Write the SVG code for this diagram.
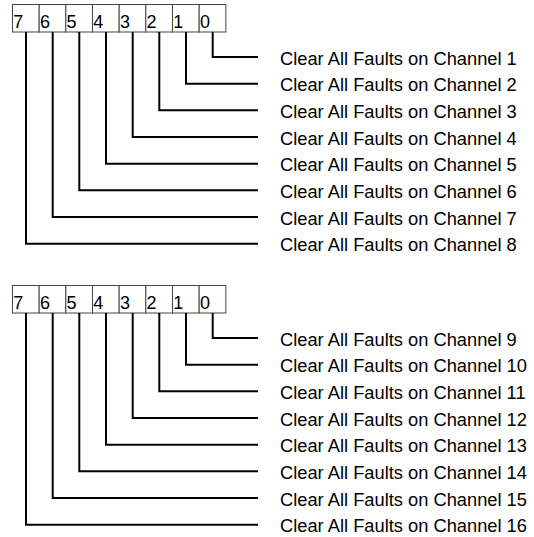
<svg xmlns="http://www.w3.org/2000/svg" width="534" height="537" viewBox="0 0 534 537">
<style>
.cell{fill:#fff;stroke:#444;stroke-width:1}
.bit{font-family:"Liberation Sans",Arial,sans-serif;font-size:18px;fill:#000}
.lbl{font-family:"Liberation Sans",Arial,sans-serif;font-size:18.3px;fill:#000}
.lead{fill:none;stroke:#000;stroke-width:2}
</style>
<rect width="534" height="537" fill="#fff"/>
<defs>
<g id="reg">
<rect class="cell" x="12.5" y="4.5" width="26.67" height="27.5"/>
<rect class="cell" x="39.17" y="4.5" width="26.67" height="27.5"/>
<rect class="cell" x="65.83" y="4.5" width="26.67" height="27.5"/>
<rect class="cell" x="92.5" y="4.5" width="26.67" height="27.5"/>
<rect class="cell" x="119.17" y="4.5" width="26.67" height="27.5"/>
<rect class="cell" x="145.83" y="4.5" width="26.67" height="27.5"/>
<rect class="cell" x="172.5" y="4.5" width="26.67" height="27.5"/>
<rect class="cell" x="199.17" y="4.5" width="26.67" height="27.5"/>
<text class="bit" x="13.3" y="27.8">7</text>
<text class="bit" x="40" y="27.8">6</text>
<text class="bit" x="66.6" y="27.8">5</text>
<text class="bit" x="93.3" y="27.8">4</text>
<text class="bit" x="120" y="27.8">3</text>
<text class="bit" x="146.6" y="27.8">2</text>
<text class="bit" x="173.3" y="27.8">1</text>
<text class="bit" x="200" y="27.8">0</text>
</g>
</defs>
<g id="register1"><use href="#reg"/></g>
<g id="register2"><use href="#reg" transform="translate(0,281)"/></g>
<g id="connectors">
<path class="lead" d="M212.7,32 V57 H258"/>
<path class="lead" d="M186,32 V83.7 H258"/>
<path class="lead" d="M159.3,32 V110.3 H258"/>
<path class="lead" d="M132.7,32 V137 H258"/>
<path class="lead" d="M106,32 V163.7 H258"/>
<path class="lead" d="M79.3,32 V190.3 H258"/>
<path class="lead" d="M52.7,32 V217 H258"/>
<path class="lead" d="M26,32 V243.7 H258"/>
<g transform="translate(0,281)">
<path class="lead" d="M212.7,32 V57 H258"/>
<path class="lead" d="M186,32 V83.7 H258"/>
<path class="lead" d="M159.3,32 V110.3 H258"/>
<path class="lead" d="M132.7,32 V137 H258"/>
<path class="lead" d="M106,32 V163.7 H258"/>
<path class="lead" d="M79.3,32 V190.3 H258"/>
<path class="lead" d="M52.7,32 V217 H258"/>
<path class="lead" d="M26,32 V243.7 H258"/>
</g>
</g>
<g id="labels1">
<text class="lbl" x="280" y="64.5">Clear All Faults on Channel 1</text>
<text class="lbl" x="280" y="91.2">Clear All Faults on Channel 2</text>
<text class="lbl" x="280" y="117.8">Clear All Faults on Channel 3</text>
<text class="lbl" x="280" y="144.5">Clear All Faults on Channel 4</text>
<text class="lbl" x="280" y="171.2">Clear All Faults on Channel 5</text>
<text class="lbl" x="280" y="197.8">Clear All Faults on Channel 6</text>
<text class="lbl" x="280" y="224.5">Clear All Faults on Channel 7</text>
<text class="lbl" x="280" y="251.2">Clear All Faults on Channel 8</text>
</g>
<g id="labels2">
<text class="lbl" x="280" y="345.5">Clear All Faults on Channel 9</text>
<text class="lbl" x="280" y="372.2">Clear All Faults on Channel 10</text>
<text class="lbl" x="280" y="398.8">Clear All Faults on Channel 11</text>
<text class="lbl" x="280" y="425.5">Clear All Faults on Channel 12</text>
<text class="lbl" x="280" y="452.2">Clear All Faults on Channel 13</text>
<text class="lbl" x="280" y="478.8">Clear All Faults on Channel 14</text>
<text class="lbl" x="280" y="505.5">Clear All Faults on Channel 15</text>
<text class="lbl" x="280" y="532.2">Clear All Faults on Channel 16</text>
</g>
</svg>
